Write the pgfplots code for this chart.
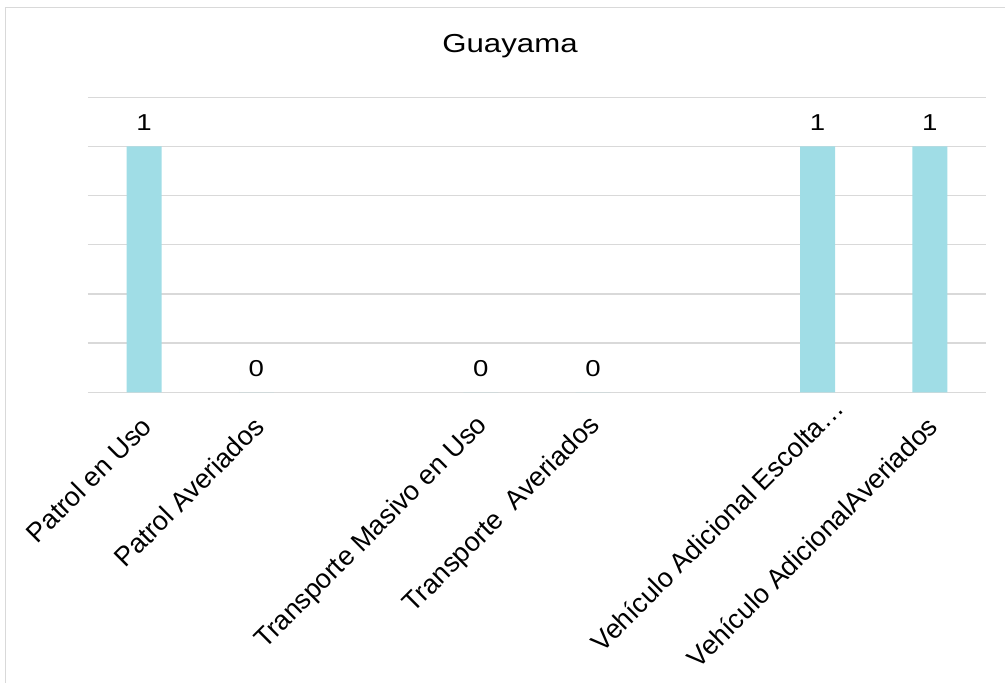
\documentclass[border=0pt]{standalone}
\usepackage{pgfplots}
\pgfplotsset{compat=1.18}
\usepackage{fontspec}
\setmainfont{Liberation Sans}
\definecolor{barcol}{RGB}{160,221,230}
\definecolor{gridgray}{RGB}{217,217,217}
\begin{document}
\begin{tikzpicture}[x=1pt,y=1pt]
\useasboundingbox (0,0) rectangle (1005,683);
\clip (0,0) rectangle (1005,683);
\draw[gridgray, line width=1.4pt] (5.5,-20) rectangle (1030,675.5);
\begin{axis}[
  at={(88pt,290.7pt)}, anchor=south west,
  scale only axis, width=898pt, height=295pt,
  xmin=-0.5, xmax=7.5, ymin=0, ymax=1.2,
  axis x line*=bottom, axis y line*=left,
  x axis line style={gridgray, line width=1.4pt, -},
  y axis line style={draw=none},
  ytick={0,0.2,0.4,0.6,0.8,1.0,1.2}, yticklabels={},
  ymajorgrids, grid style={gridgray, line width=1.4pt},
  xtick={0,1,2,3,4,5,6,7},
  xticklabels={Patrol en Uso, Patrol Averiados, {}, Transporte Masivo en Uso, Transporte\ \ Averiados, {}, {Vehículo Adicional Escolta…\kern-26pt}, Vehículo AdicionalAveriados},
  major tick length=0pt,
  tick style={draw=none},
  xticklabel style={font=\fontsize{27}{31}\selectfont, xshift=5pt, yshift=-27pt, rotate=45, anchor=east},
  ybar, bar width=35pt,
  /pgf/number format/assume math mode=true,
  nodes near coords={\scalebox{1.2}[1]{\pgfmathprintnumber{\pgfplotspointmeta}}},
  every node near coord/.append style={font=\fontsize{23}{27}\selectfont, anchor=base, yshift=16pt},
  title={\scalebox{1.2}[1]{Guayama}},
  title style={font=\fontsize{26}{30}\selectfont, at={(0.5,1)}, anchor=base, xshift=-27pt, yshift=38.3pt},
  clip=false,
]
\addplot[fill=barcol, draw=none] coordinates {(0,1) (1,0) (3,0) (4,0) (6,1) (7,1)};
\end{axis}
\end{tikzpicture}
\end{document}
